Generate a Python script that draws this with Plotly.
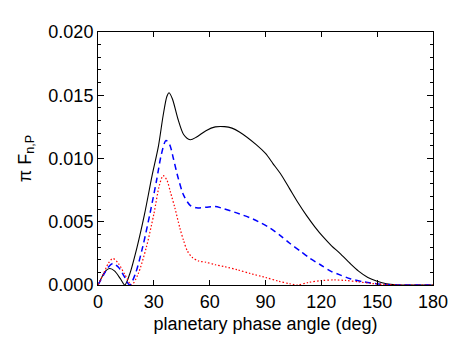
import plotly.graph_objects as go

# solid black curve
black_deg = [0, 2, 4, 6.3, 9, 12, 14.4, 17, 21, 25, 29, 32.5, 35, 37, 38.2, 40, 43, 46, 49.5,
             53, 58, 63, 68, 72, 76, 85, 90, 94, 98.5, 103, 107.5, 112, 116.5, 121, 125.5,
             130, 135.5, 140, 145, 150, 155, 160, 166, 180]
black_val = [0, 0.0006, 0.0011, 0.0013, 0.0011, 0.0005, 0, 0.00085, 0.0030, 0.0056, 0.0086,
             0.0110, 0.0134, 0.0149, 0.0152, 0.0147, 0.0131, 0.0119, 0.01148,
             0.0117, 0.0122, 0.01250, 0.01252, 0.0124, 0.0121, 0.0111, 0.0104, 0.0096, 0.0087,
             0.0076, 0.0065, 0.0055, 0.0046, 0.0038, 0.0031,
             0.0025, 0.0017, 0.0011, 0.0006, 0.0003, 0.0001, 0.00002, 0, 0]

# dashed blue curve
blue_deg = [0, 3, 5.5, 8, 11, 14, 17, 20, 24, 28, 31.5, 34, 36.5, 38.5, 40.5, 43, 46, 49.5,
            53, 58, 63, 66, 74.5, 83.5, 92.5, 98, 103, 108.5, 114, 119.5, 125, 130, 135.5,
            143, 152, 160, 180]
blue_val = [0, 0.0008, 0.0014, 0.0017, 0.0014, 0.0007, 0, 0.00085, 0.0030, 0.0057, 0.0083,
            0.0103, 0.01143, 0.0111, 0.0100, 0.0085, 0.0071, 0.0063,
            0.0061, 0.00615, 0.0062, 0.0061, 0.0057, 0.0052, 0.0045, 0.0039, 0.0033, 0.0027,
            0.0021, 0.0016, 0.0011, 0.0008, 0.0005, 0.00024, 0.00006, 0, 0]

# dotted red curve
red_deg = [0, 3, 5.5, 8, 11, 14.5, 18, 21.5, 26, 30, 33, 35, 37, 39, 41.3, 44, 46, 48, 50.5,
           54, 58, 63, 68, 75, 82, 90, 97, 103, 107, 113, 120, 127, 133, 140, 147, 154, 162, 180]
red_val = [0, 0.0009, 0.0017, 0.0021, 0.0017, 0.0008, 0, 0.00085, 0.0030, 0.0056, 0.0079,
           0.00865, 0.0083, 0.0073, 0.0061, 0.0045, 0.0035, 0.0027, 0.0022,
           0.0019, 0.0018, 0.0016, 0.00145, 0.0012, 0.0009, 0.0006, 0.0003, 0.0001, 0,
           0.0002, 0.00035, 0.0004, 0.00036, 0.00025, 0.00012, 0.00004, 0, 0]

x_ticks = [0, 30, 60, 90, 120, 150, 180]
y_ticks = [0.000, 0.005, 0.010, 0.015, 0.020]
y_ticktext = ["0.000", "0.005", "0.010", "0.015", "0.020"]

fig = go.Figure()

fig.add_trace(go.Scatter(x=black_deg, y=black_val, mode='lines',
                         line=dict(color='black', width=1.1, shape='spline', smoothing=0.8)))
fig.add_trace(go.Scatter(x=blue_deg, y=blue_val, mode='lines',
                         line=dict(color='#0000ff', width=1.5, dash='6px,4px',
                                   shape='spline', smoothing=0.8)))
fig.add_trace(go.Scatter(x=red_deg, y=red_val, mode='lines',
                         line=dict(color='#ff0000', width=1.2, dash='1.5px,2px',
                                   shape='spline', smoothing=0.8)))

axis_font = dict(family='Liberation Sans, Arial, sans-serif', size=18, color='black')

fig.update_layout(
    width=463, height=348,
    margin=dict(l=98, r=30, t=32, b=63),
    paper_bgcolor='white', plot_bgcolor='white',
    showlegend=False,
    font=axis_font,
    xaxis=dict(range=[0, 180], tickvals=x_ticks, ticks='inside', ticklen=5,
               tickcolor='black', showline=True, linecolor='black', linewidth=1,
               mirror='ticks', showgrid=False, zeroline=False, tickfont=axis_font,
               title=dict(text='planetary phase angle (deg)', font=axis_font, standoff=6)),
    yaxis=dict(range=[0, 0.02], tickvals=y_ticks, ticktext=y_ticktext, ticks='inside',
               ticklen=6, tickcolor='black', showline=True, linecolor='black', linewidth=1,
               mirror='ticks', showgrid=False, zeroline=False, tickfont=axis_font,
               minor=dict(dtick=0.001, ticks='inside', ticklen=3, tickcolor='black',
                          showgrid=False),
               title=dict(text='π F<sub>n,P</sub>', font=axis_font, standoff=12)),
)

# the page body has a default 8px margin; drop it so the figure sits at the top-left
fig.write_html("out.html", config={'displayModeBar': False},
               post_script="document.body.style.margin='0px';")
